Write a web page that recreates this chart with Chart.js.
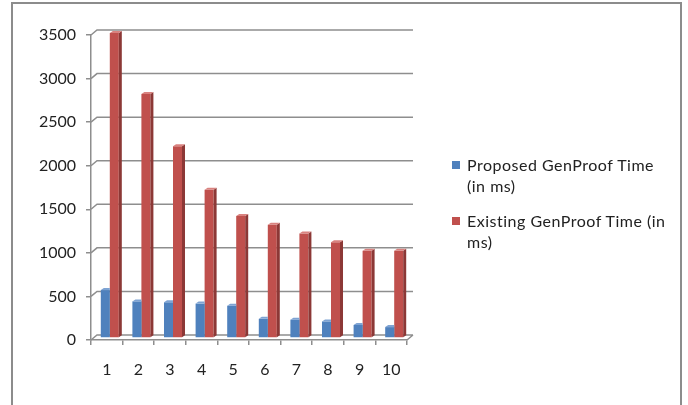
<!DOCTYPE html>
<html>
<head>
<meta charset="utf-8">
<script src="https://cdn.jsdelivr.net/npm/chart.js@4.4.0/dist/chart.umd.min.js"></script>
<style>
  html, body { margin: 0; padding: 0; background: #fff; }
  #wrap { position: relative; width: 688px; height: 405px; overflow: hidden; }
  #frame { position: absolute; left: 11px; top: 2px; width: 671px; height: 430px;
           border: 2px solid #8c8c8c; box-sizing: border-box; }
  #chart { position: absolute; left: 0; top: 0; }
  #legend { position: absolute; left: 452px; top: 154px; font-family: Lato, sans-serif;
            font-size: 16px; line-height: 21px; letter-spacing: 0.5px; color: #222; }
  .item { display: flex; align-items: flex-start; margin-bottom: 14px; }
  .swatch { width: 8px; height: 8px; margin-top: 7px; margin-right: 7px; flex: none; }
</style>
</head>
<body>
<div id="wrap">
  <div id="frame"></div>
  <canvas id="chart" width="688" height="405"></canvas>
  <div id="legend"></div>
</div>
<script>
// runs 1..10
const runs = ['1', '2', '3', '4', '5', '6', '7', '8', '9', '10'];
// GenProof time per run, ms
const proposedTimes = [550, 420, 410, 395, 370, 220, 210, 190, 150, 125];
const existingTimes = [3500, 2800, 2200, 1700, 1400, 1300, 1200, 1100, 1000, 1000];
// legend text, one entry per line
const legendLines = [
  ['Proposed GenProof Time', '(in ms)'],
  ['Existing GenProof Time (in', 'ms)']
];
const yMax = 3500;
const yStep = 500;

const FONT = { family: 'Lato, sans-serif', size: 16 };
const GRID = '#8e8e8e';
const WALL = { x: 6, y: 5 };   // depth of the back wall
const BAR = { x: 3, y: 2 };    // depth of every bar

const faces = [
  { front: '#4f81bd', side: '#385d8a', top: '#7ea3d3' },
  { front: '#c0504d', side: '#8c3836', top: '#d9827f' }
];

/** @desc draws the back wall grid and the right floor edge */
const wallPlugin = {
  id: 'wall',
  beforeDatasetsDraw(chart) {
    const { ctx, chartArea: a, scales: { y } } = chart;
    ctx.save();
    ctx.strokeStyle = GRID;
    ctx.lineWidth = 1.5;
    ctx.beginPath();
    y.ticks.forEach((t) => {
      const py = y.getPixelForValue(t.value);
      ctx.moveTo(a.left, py);
      ctx.lineTo(a.left + WALL.x, py - WALL.y);
      ctx.lineTo(a.right + WALL.x, py - WALL.y);
    });
    ctx.moveTo(a.right, a.bottom);
    ctx.lineTo(a.right + WALL.x, a.bottom - WALL.y);
    ctx.stroke();
    ctx.restore();
  }
};

/** @desc gives every bar a side and a top face */
const barPlugin = {
  id: 'bars3d',
  beforeDatasetDraw(chart) {
    chart.ctx.save();
    chart.ctx.translate(BAR.x, -BAR.y);
  },
  afterDatasetDraw(chart, args) {
    const ctx = chart.ctx;
    const c = faces[args.index];
    // the last series sits in front; earlier ones are hidden behind its bars
    const hidden = args.index < chart.data.datasets.length - 1;
    args.meta.data.forEach((bar) => {
      const { x, y, base, width } = bar.getProps(['x', 'y', 'base', 'width'], true);
      const l = x - width / 2;
      const r = x + width / 2;
      ctx.save();
      if (hidden) {
        ctx.beginPath();
        ctx.rect(l - 1, 0, r - l + 1, chart.height);
        ctx.clip();
      }
      ctx.fillStyle = c.side;
      ctx.beginPath();
      ctx.moveTo(r, y);
      ctx.lineTo(r + BAR.x, y - BAR.y);
      ctx.lineTo(r + BAR.x, base - BAR.y);
      ctx.lineTo(r, base);
      ctx.closePath();
      ctx.fill();
      ctx.fillStyle = c.top;
      ctx.beginPath();
      ctx.moveTo(l, y);
      ctx.lineTo(l + BAR.x, y - BAR.y);
      ctx.lineTo(r + BAR.x, y - BAR.y);
      ctx.lineTo(r, y);
      ctx.closePath();
      ctx.fill();
      ctx.restore();
    });
    ctx.restore();
  }
};

const series = [proposedTimes, existingTimes];
const datasets = series.map((values, i) => ({
  label: legendLines[i].join(' '),
  data: values,
  backgroundColor: faces[i].front,
  borderWidth: 0,
  clip: false
}));

new Chart(document.getElementById('chart'), {
  type: 'bar',
  data: { labels: runs, datasets },
  options: {
    responsive: false,
    animation: false,
    devicePixelRatio: 1,
    layout: { padding: { left: 0, right: 281, top: 35, bottom: 0 } },
    categoryPercentage: 0.57,
    barPercentage: 1,
    plugins: { legend: { display: false }, tooltip: { enabled: false } },
    scales: {
      x: {
        afterFit: (s) => { s.height = 65; },
        grid: { drawOnChartArea: false, color: GRID, lineWidth: 1.5, tickLength: 5 },
        border: { color: GRID, width: 1.5 },
        ticks: { font: FONT, color: '#222', padding: 15 }
      },
      y: {
        min: 0,
        max: yMax,
        afterFit: (s) => { s.width = 91; },
        grid: { drawOnChartArea: false, color: GRID, lineWidth: 1.5, tickLength: 5 },
        border: { color: GRID, width: 1.5 },
        ticks: { stepSize: yStep, font: FONT, color: '#222', padding: 10,
                 callback: (v) => String(v) }
      }
    }
  },
  plugins: [wallPlugin, barPlugin]
});

// legend beside the plot
const legend = document.getElementById('legend');
legendLines.forEach((lines, i) => {
  const item = document.createElement('div');
  item.className = 'item';
  const sw = document.createElement('div');
  sw.className = 'swatch';
  sw.style.background = faces[i].front;
  const txt = document.createElement('div');
  txt.innerHTML = lines.join('<br>');
  item.appendChild(sw);
  item.appendChild(txt);
  legend.appendChild(item);
});
</script>
</body>
</html>
